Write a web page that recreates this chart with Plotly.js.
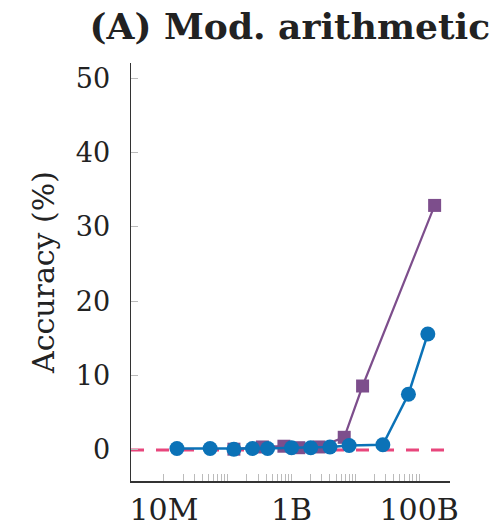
<!DOCTYPE html>
<html>
<head>
<meta charset="utf-8">
<script src="https://cdn.plot.ly/plotly-3.0.1.min.js"></script>
<style>html,body{margin:0;padding:0;background:#fff;}#chart{width:504px;height:529px;}</style>
</head>
<body>
<div id="chart"></div>
<script>
// LaMDA (blue circles): model parameters and accuracy (%)
const lamdaParams = [16e6, 53e6, 125e6, 244e6, 422e6, 1e9, 2e9, 4e9, 8e9, 27e9, 68e9, 137e9];
const lamdaAcc    = [0.2, 0.2, 0.1, 0.2, 0.2, 0.3, 0.3, 0.4, 0.6, 0.7, 7.5, 15.6];
// GPT-3 (purple squares)
const gpt3Params = [125e6, 350e6, 760e6, 1.3e9, 2.7e9, 6.7e9, 13e9, 175e9];
const gpt3Acc    = [0.1, 0.4, 0.5, 0.3, 0.4, 1.7, 8.6, 32.9];
// Random baseline
const randomAcc = 0;
// Axis ticks
const xTickVals = [1e7, 1e9, 1e11];
const xTickText = ["10M", "1B", "100B"];
const yTickVals = [0, 10, 20, 30, 40, 50];

const minorVals = [];
for (let e = 7; e <= 10; e++) for (let m = 1; m <= 9; m++) minorVals.push(m * Math.pow(10, e));
minorVals.push(1e11);

const serif = "DejaVu Serif, Liberation Serif, serif";

const traces = [
  {x: gpt3Params, y: gpt3Acc, type: 'scatter', mode: 'lines+markers', name: 'GPT-3',
   line: {color: '#7d4e8c', width: 2.2}, marker: {symbol: 'square', size: 13, color: '#7d4e8c'}},
  {x: lamdaParams, y: lamdaAcc, type: 'scatter', mode: 'lines+markers', name: 'LaMDA',
   line: {color: '#0b72b7', width: 2.5}, marker: {symbol: 'circle', size: 15, color: '#0b72b7'}},
  {x: [minorVals[0]], y: [null], xaxis: 'x2', yaxis: 'y', type: 'scatter', mode: 'markers',
   hoverinfo: 'skip', showlegend: false}
];

const layout = {
  width: 504, height: 529,
  margin: {l: 131, r: 54, t: 63, b: 48},
  paper_bgcolor: '#fff', plot_bgcolor: '#fff',
  showlegend: false,
  title: {text: '<b>(A) Mod. arithmetic</b>', x: 0.575, xanchor: 'center', y: 0.95, yanchor: 'middle',
          font: {family: serif, size: 36, color: '#222'}},
  xaxis: {type: 'log', range: [6.484, 11.484], tickmode: 'array', tickvals: xTickVals, ticktext: xTickText,
          ticks: '', showgrid: false, zeroline: false, showline: true, linecolor: '#333', linewidth: 1.5,
          ticklabelstandoff: 1,
          tickfont: {family: serif, size: 30, color: '#222'}},
  xaxis2: {type: 'log', range: [6.484, 11.484], overlaying: 'x', anchor: 'y', tickmode: 'array',
           tickvals: minorVals, showticklabels: false, ticks: 'inside', ticklen: 7, tickwidth: 1,
           tickcolor: '#bbb', showgrid: false, zeroline: false, showline: false},
  yaxis: {range: [-4.18, 52.06], tickmode: 'array', tickvals: yTickVals, ticks: 'inside', ticklen: 7,
          tickcolor: '#bbb', tickwidth: 1, showgrid: false, zeroline: false, showline: true,
          linecolor: '#333', linewidth: 1.5, ticklabelstandoff: 14,
          tickfont: {family: serif, size: 27, color: '#222'},
          title: {text: 'Accuracy (%)', standoff: 12, font: {family: serif, size: 30, color: '#222'}}},
  shapes: [{type: 'line', xref: 'paper', x0: 0, x1: 1, yref: 'y', y0: randomAcc, y1: randomAcc,
            line: {color: '#e8467c', width: 3, dash: '13px,12px'}, layer: 'below'}]
};

Plotly.newPlot('chart', traces, layout, {staticPlot: true, displayModeBar: false});
</script>
</body>
</html>
